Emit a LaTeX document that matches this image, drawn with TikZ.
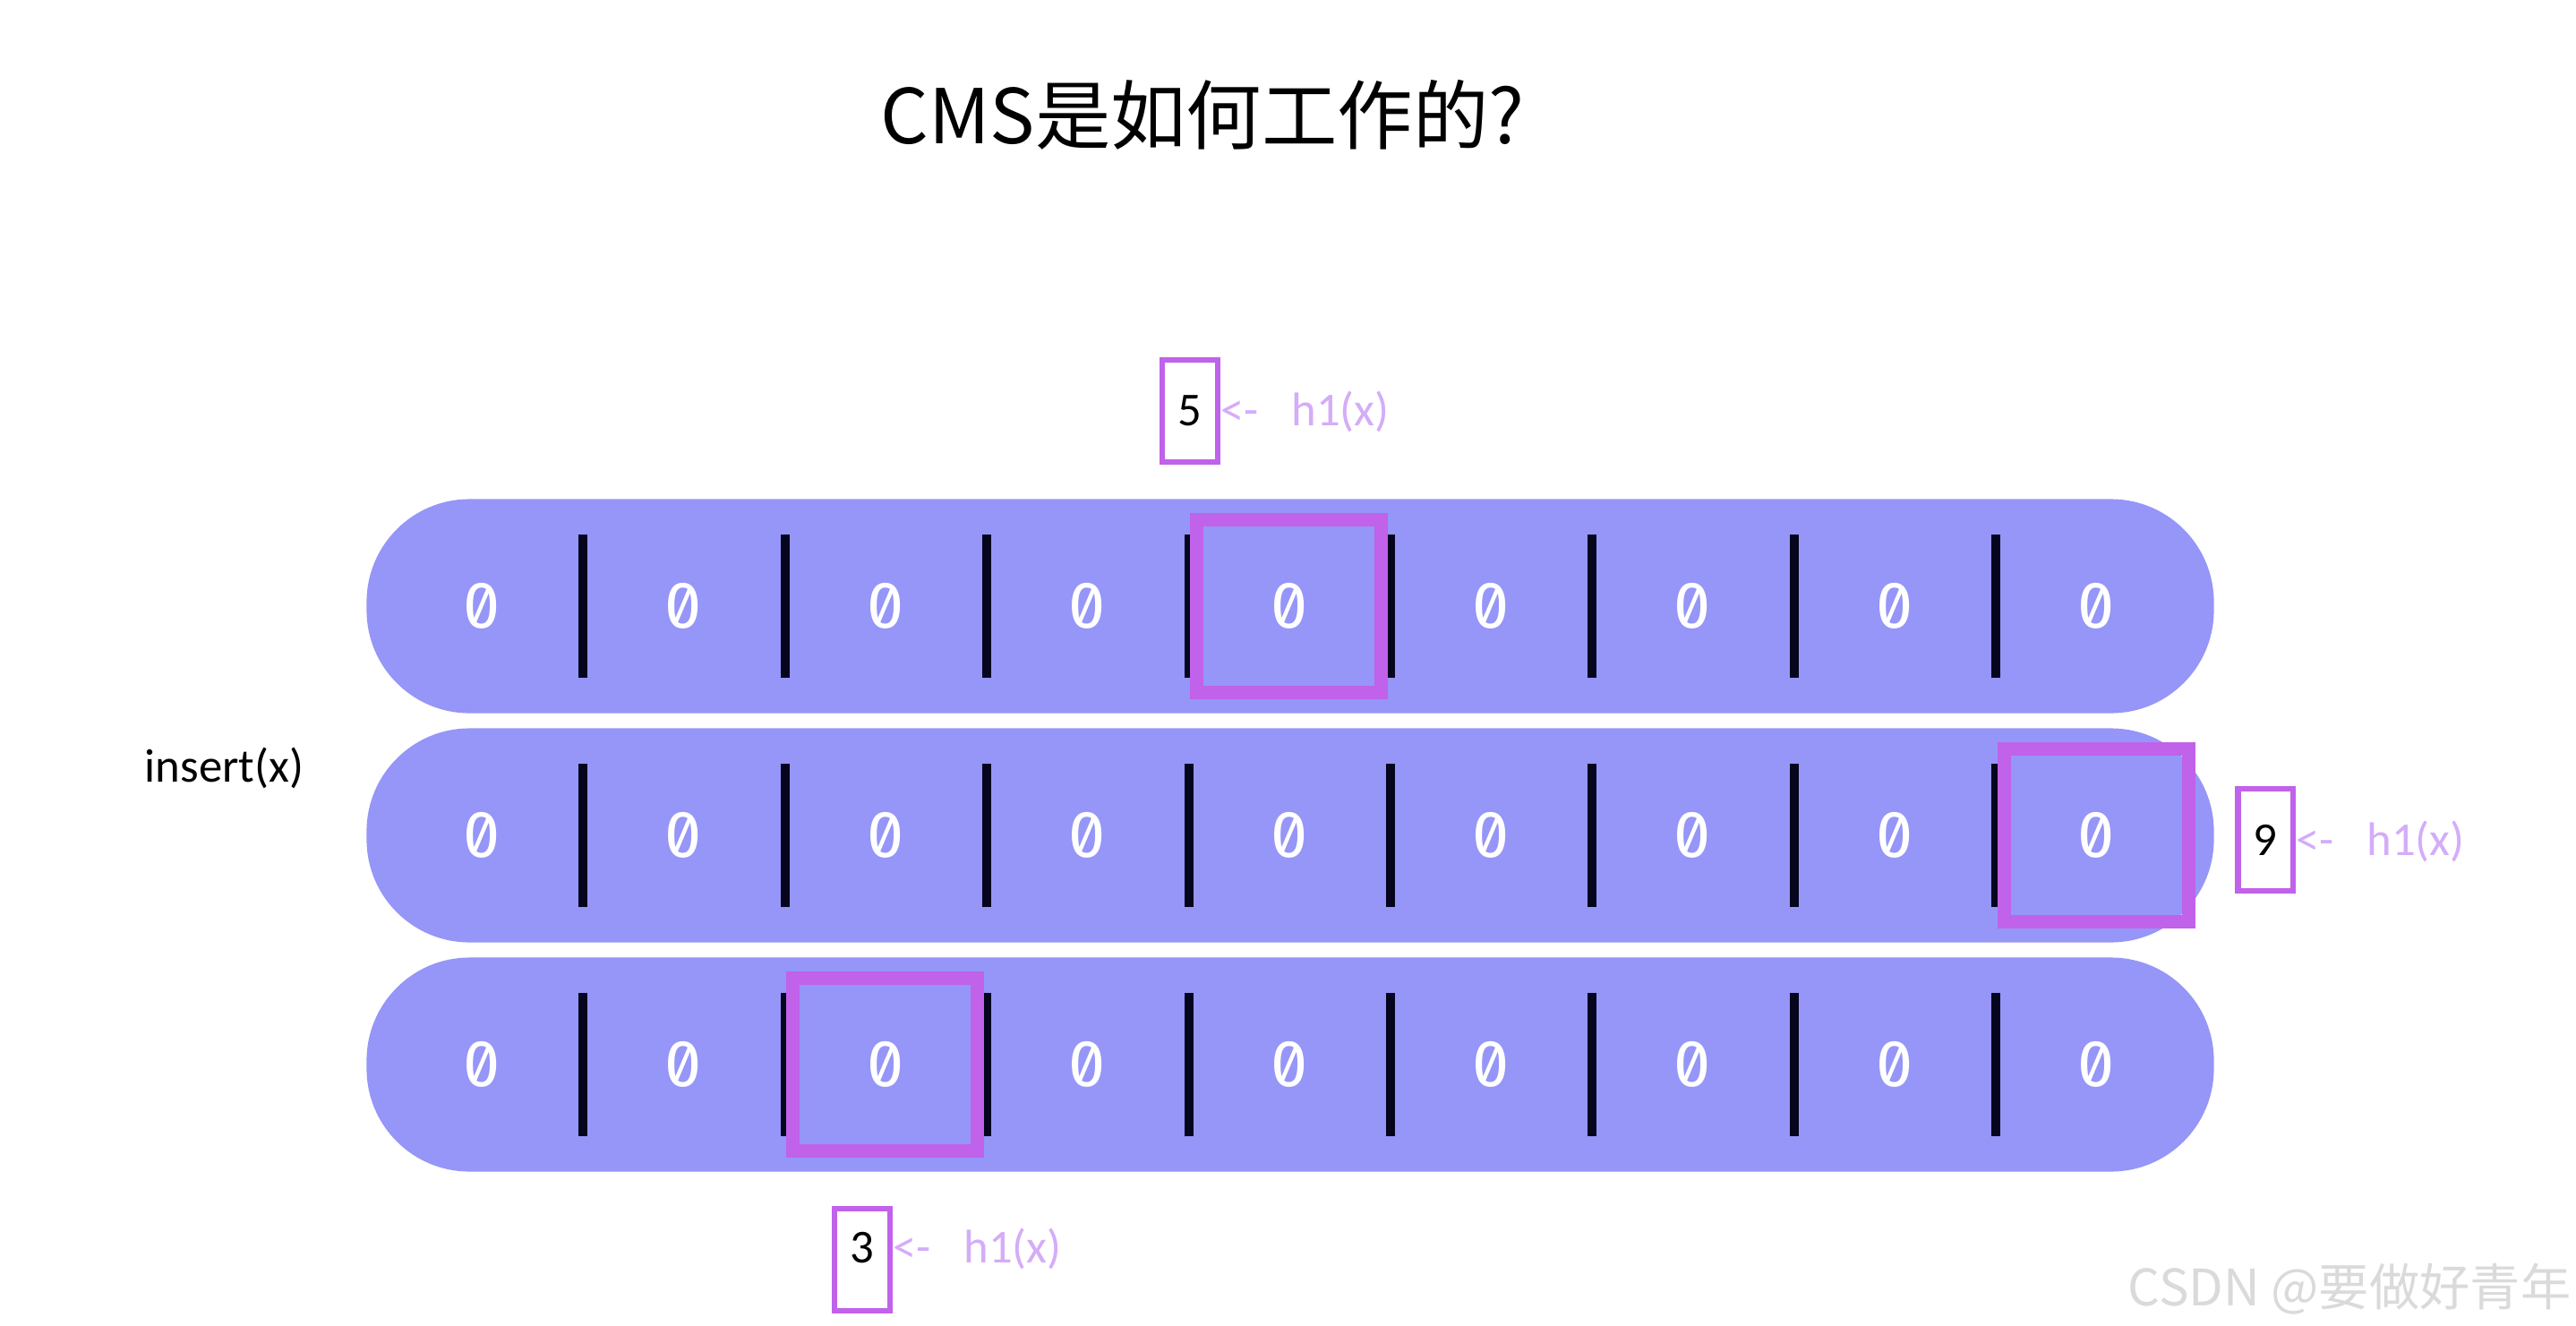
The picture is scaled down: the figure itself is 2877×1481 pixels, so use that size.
\documentclass[tikz,border=0pt]{standalone}
\usepackage{fontspec}
\setmainfont{Carlito}
\newfontfamily\cjk{Noto Sans CJK SC}
\newfontfamily\zerofont[RawFeature=+zero]{Fira Sans}
\usetikzlibrary{positioning}

\definecolor{rowblue}{RGB}{149,150,247}
\definecolor{barc}{RGB}{5,5,30}
\definecolor{hitc}{RGB}{192,98,234}
\definecolor{hintc}{RGB}{212,172,248}
\definecolor{markc}{RGB}{218,218,218}

\begin{document}
\begin{tikzpicture}[x=0.01cm, y=-0.01cm,
  every node/.style={inner sep=0pt},
  row/.style={rectangle, fill=rowblue, rounded corners=1.15cm,
    minimum width=20.62cm, minimum height=2.39cm},
  cell/.style={minimum width=2.254cm, minimum height=1.58cm, text=white,
    font=\zerofont\fontsize{21pt}{21pt}\selectfont},
  bar/.style={draw=barc, line width=0.1cm},
  hit/.style={rectangle, draw=hitc, line width=0.15cm,
    minimum width=2.06cm, minimum height=1.92cm},
  key/.style={rectangle, draw=hitc, line width=0.06cm,
    minimum width=0.61cm, minimum height=1.14cm,
    font=\fontsize{15pt}{18pt}\selectfont},
  hint/.style={text=hintc, font=\fontsize{15pt}{18pt}\selectfont}]

\useasboundingbox (0,0) rectangle (2877,1481);

\node[font=\cjk\fontsize{24pt}{28pt}\selectfont] (title) at (1343,128) {CMS是如何工作的?};

% the three counter rows
\foreach \r/\y in {1/677, 2/933, 3/1189} {
  \node[row] (row\r) at (1441,\y) {};
  \foreach \i in {1,...,9}
    \node[cell] (c-\r-\i) at ({538+225.4*(\i-1)},\y) {0};
  \foreach \i in {1,...,8}
    \draw[bar] (c-\r-\i.north east) -- (c-\r-\i.south east);
}

\node[hit] (hit1) at (c-1-5) {};
\node[hit] (hit2) at (c-2-9) {};
\node[hit] (hit3) at (c-3-3) {};

\node[key] (k5) at (1329,459) {5};
\node[hint, base right=0pt of k5] (h5) {<-\hspace{0.7em}h1(x)};
\node[key] (k9) at (2530,938) {9};
\node[hint, base right=0pt of k9] (h9) {<-\hspace{0.7em}h1(x)};
\node[key, text depth=0.28cm] (k3) at (963,1407) {3};
\node[hint, base right=0pt of k3] (h3) {<-\hspace{0.7em}h1(x)};

\node[anchor=west, font=\fontsize{15pt}{18pt}\selectfont] (insert) at (161,858) {insert(x)};

\node[anchor=east, text=markc, font=\cjk\fontsize{16pt}{18pt}\selectfont] (mark) at (2872,1440) {CSDN @要做好青年};

\end{tikzpicture}
\end{document}
